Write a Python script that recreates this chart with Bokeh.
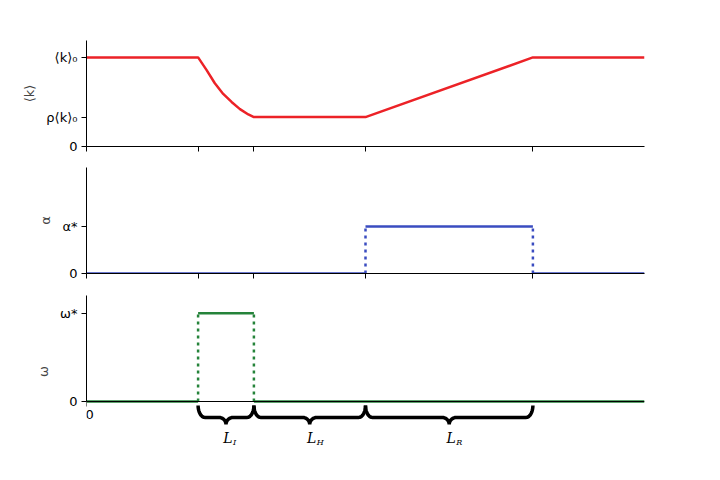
import numpy as np
from bokeh.plotting import figure
from bokeh.layouts import column
from bokeh.models import Range1d, FixedTicker, CustomLabelingPolicy
from bokeh.core.properties import value
from bokeh.embed import file_html
from bokeh.resources import INLINE

# ---- data ----
k_x = [0, 2, 2.15, 2.3, 2.45, 2.6, 2.75, 2.9, 3, 5, 8, 10]
k_y = [1, 1, 0.86, 0.71, 0.59, 0.50, 0.42, 0.36, 0.33, 0.33, 1, 1]
rho_k0 = 0.33
k_top = 1.19

alpha_solid_x = [[0, 5], [5, 8], [8, 10]]
alpha_solid_y = [[0, 0], [1, 1], [0, 0]]
alpha_dot_x = [[5, 5], [8, 8]]
alpha_dot_y = [[0, 1], [0, 1]]
alpha_top = 2.25

omega_solid_x = [[0, 2], [2, 3], [3, 10]]
omega_solid_y = [[0, 0], [1, 1], [0, 0]]
omega_dot_x = [[2, 2], [3, 3]]
omega_dot_y = [[0, 1], [0, 1]]
omega_top = 1.2

x_ticks = [0, 2, 3, 5, 8]
x_origin_label = "0"
phase_edges = [2, 3, 5, 8]
phase_subs = ["I", "H", "R"]

RED = "#ec2227"
BLUE = "#3a4cc0"
GREEN = "#25833a"
FONT = "DejaVu Sans"


def base_fig(y0, y1, top, bottom, fh):
    p = figure(output_backend="svg", toolbar_location=None,
               x_range=Range1d(0, 10), y_range=Range1d(y0, y1),
               frame_width=558, frame_height=fh,
               min_border_left=86, min_border_right=60,
               min_border_top=top, min_border_bottom=bottom)
    p.grid.visible = False
    p.outline_line_color = None
    p.background_fill_color = "white"
    p.border_fill_color = "white"
    for ax in (p.xaxis, p.yaxis):
        ax.axis_line_color = "black"
        ax.axis_line_width = 1
        ax.major_tick_line_color = "black"
        ax.major_tick_in = 0
        ax.major_tick_out = 5
        ax.minor_tick_line_color = None
        ax.major_label_text_font = FONT
        ax.major_label_text_font_size = "13px"
        ax.major_label_text_color = "black"
        ax.axis_label_text_font = FONT
        ax.axis_label_text_font_style = "normal"
        ax.axis_label_text_font_size = "13px"
        ax.major_label_standoff = 4
        ax.axis_label_standoff = 6
    p.xaxis.ticker = FixedTicker(ticks=x_ticks)
    return p


def hide_xlabels(p):
    p.xaxis.major_label_policy = CustomLabelingPolicy(code="return []")
    p.xaxis.major_label_standoff = 0


# panel 1
p1 = base_fig(0, k_top, 40, 21, 106)
hide_xlabels(p1)
p1.yaxis.ticker = FixedTicker(ticks=[0, rho_k0, 1])
p1.yaxis.major_label_overrides = {0: "0", rho_k0: "ρ⟨k⟩₀", 1: "⟨k⟩₀"}
p1.yaxis.axis_label = "⟨k⟩"
p1.line(k_x, k_y, line_color=RED, line_width=2.5)

# panel 2
p2 = base_fig(0, alpha_top, 0, 22, 106)
hide_xlabels(p2)
p2.yaxis.ticker = FixedTicker(ticks=[0, 1])
p2.yaxis.major_label_overrides = {0: "0", 1: "α*"}
p2.yaxis.axis_label = "α"
p2.multi_line(alpha_solid_x, alpha_solid_y, line_color=BLUE, line_width=2.5)
p2.multi_line(alpha_dot_x, alpha_dot_y, line_color=BLUE, line_width=2.5, line_dash="3 4")

# panel 3
px_per_unit = 106 / omega_top
y_bottom = -46 / px_per_unit
p3 = base_fig(y_bottom, omega_top, 0, 4, 152)
p3.xaxis.fixed_location = 0
p3.xaxis.ticker = FixedTicker(ticks=[0])
hide_xlabels(p3)
p3.yaxis.bounds = (0, omega_top)
p3.yaxis.ticker = FixedTicker(ticks=[0, 1])
p3.yaxis.major_label_overrides = {0: "0", 1: "ω*"}
p3.yaxis.axis_label = "ω"
p3.multi_line(omega_solid_x, omega_solid_y, line_color=GREEN, line_width=2.5)
p3.multi_line(omega_dot_x, omega_dot_y, line_color=GREEN, line_width=2.5, line_dash="3 4")
# origin tick label (kept inside the frame so it is not clipped)
p3.text(x=[0], y=[0], text=[x_origin_label], text_font=value(FONT),
        text_font_size="13px", text_align="left", text_baseline="top",
        x_offset=-1, y_offset=8, text_color="black")


# braces (shape derived from phase edges)
def brace(a, b):
    ytop, yh, ytip = -4 / px_per_unit, -16 / px_per_unit, -23 / px_per_unit
    r = 7 / 55.8
    m = (a + b) / 2
    t = np.linspace(0, np.pi / 2, 12)
    xs, ys = [], []
    xs += list(a + r * (1 - np.cos(t))); ys += list(ytop - (ytop - yh) * np.sin(t))
    xs += list(m - r + r * np.sin(t)); ys += list(yh - (yh - ytip) * (1 - np.cos(t)))
    xs += list(m + r - r * np.sin(t[::-1])); ys += list(yh - (yh - ytip) * (1 - np.cos(t[::-1])))
    xs += list(b - r * (1 - np.cos(t[::-1]))); ys += list(ytop - (ytop - yh) * np.sin(t[::-1]))
    return xs, ys


bx, by = [], []
for a, b in zip(phase_edges[:-1], phase_edges[1:]):
    xs, ys = brace(a, b)
    bx.append(xs); by.append(ys)
p3.multi_line(bx, by, line_color="black", line_width=3.5)

mids = [(a + b) / 2 for a, b in zip(phase_edges[:-1], phase_edges[1:])]
ly = -36 / px_per_unit
p3.text(x=mids, y=[ly] * 3, text=["L"] * 3, text_font=value("DejaVu Serif"),
        text_font_style="italic", text_font_size="14px", text_align="center",
        text_baseline="middle", x_offset=2, text_color="black")
p3.text(x=mids, y=[ly] * 3, text=phase_subs, text_font=value("DejaVu Serif"),
        text_font_style="italic", text_font_size="8px", text_align="left",
        text_baseline="middle", x_offset=7, y_offset=5, text_color="black")

layout = column(p1, p2, p3, spacing=0)
open("out.html", "w").write(file_html(layout, INLINE))
